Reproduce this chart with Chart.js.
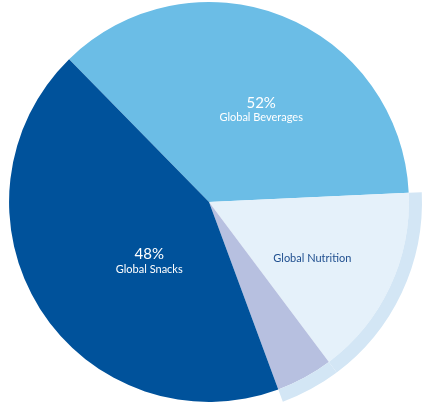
<!DOCTYPE html>
<html>
<head>
<meta charset="utf-8">
<script src="https://cdn.jsdelivr.net/npm/chart.js@4"></script>
<style>
  html, body { margin: 0; padding: 0; background: #fff; overflow: hidden; }
  body { width: 429px; height: 409px; position: relative; }
  #wrap { position: absolute; left: -11px; top: -18px; width: 440px; height: 440px; }
</style>
</head>
<body>
<div id="wrap"><canvas id="pieChart" width="440" height="440"></canvas></div>
<script>
// share of the circle (clockwise from the top-left edge)
const segments = ['Global Beverages', 'Global Nutrition', 'Other', 'Global Snacks'];
const shares = [36.6, 15.5, 4.6, 43.3];
const sliceColors = ['#6bbde6', '#e5f1fa', '#b7c0e0', '#00529b'];
// the raised rim only sits on nutrition + the small slice
const rimColors = ['rgba(0,0,0,0)', '#d3e6f5', '#d3e6f5', 'rgba(0,0,0,0)'];

const labelTexts = [['52%', 'Global Beverages'], ['Global Nutrition'], [], ['48%', 'Global Snacks']];

// label placement relative to each slice: turn from the mid angle (deg), fraction of radius
const labelSpots = [
    { turn: 8, frac: 0.53, color: '#ffffff' },
    { turn: 3.6, frac: 0.59, color: '#1f4f8f' },
    null,
    { turn: -12.3, frac: 0.42, color: '#ffffff' }
];

const sliceLabels = {
    id: 'sliceLabels',
    afterDatasetsDraw(chart) {
        const ctx = chart.ctx;
        const arcs = chart.getDatasetMeta(1).data;
        ctx.save();
        ctx.textAlign = 'center';
        ctx.textBaseline = 'middle';
        arcs.forEach((arc, i) => {
            const spot = labelSpots[i];
            if (!spot) return;
            const mid = (arc.startAngle + arc.endAngle) / 2 + spot.turn * Math.PI / 180;
            const r = arc.outerRadius * spot.frac;
            const x = arc.x + Math.cos(mid) * r;
            const y = arc.y + Math.sin(mid) * r;
            ctx.fillStyle = spot.color;
            const lines = labelTexts[i];
            if (lines.length === 2) {
                ctx.font = '15px Lato, sans-serif';
                ctx.fillText(lines[0], x, y - 7);
                ctx.font = '11px Lato, sans-serif';
                ctx.fillText(lines[1], x, y + 8);
            } else {
                ctx.font = '11px Lato, sans-serif';
                ctx.fillText(lines[0], x, y);
            }
        });
        ctx.restore();
    }
};

new Chart(document.getElementById('pieChart'), {
    type: 'pie',
    data: {
        labels: segments,
        datasets: [
            {
                data: shares,
                backgroundColor: rimColors,
                borderWidth: 0,
                hoverOffset: 0,
                weight: 13
            },
            {
                data: shares,
                backgroundColor: sliceColors,
                borderWidth: 0,
                hoverOffset: 0,
                weight: 199
            }
        ]
    },
    options: {
        responsive: false,
        animation: false,
        events: [],
        rotation: -44.4,
        layout: { padding: 7 },
        plugins: {
            legend: { display: false },
            tooltip: { enabled: false }
        }
    },
    plugins: [sliceLabels]
});
</script>
</body>
</html>
